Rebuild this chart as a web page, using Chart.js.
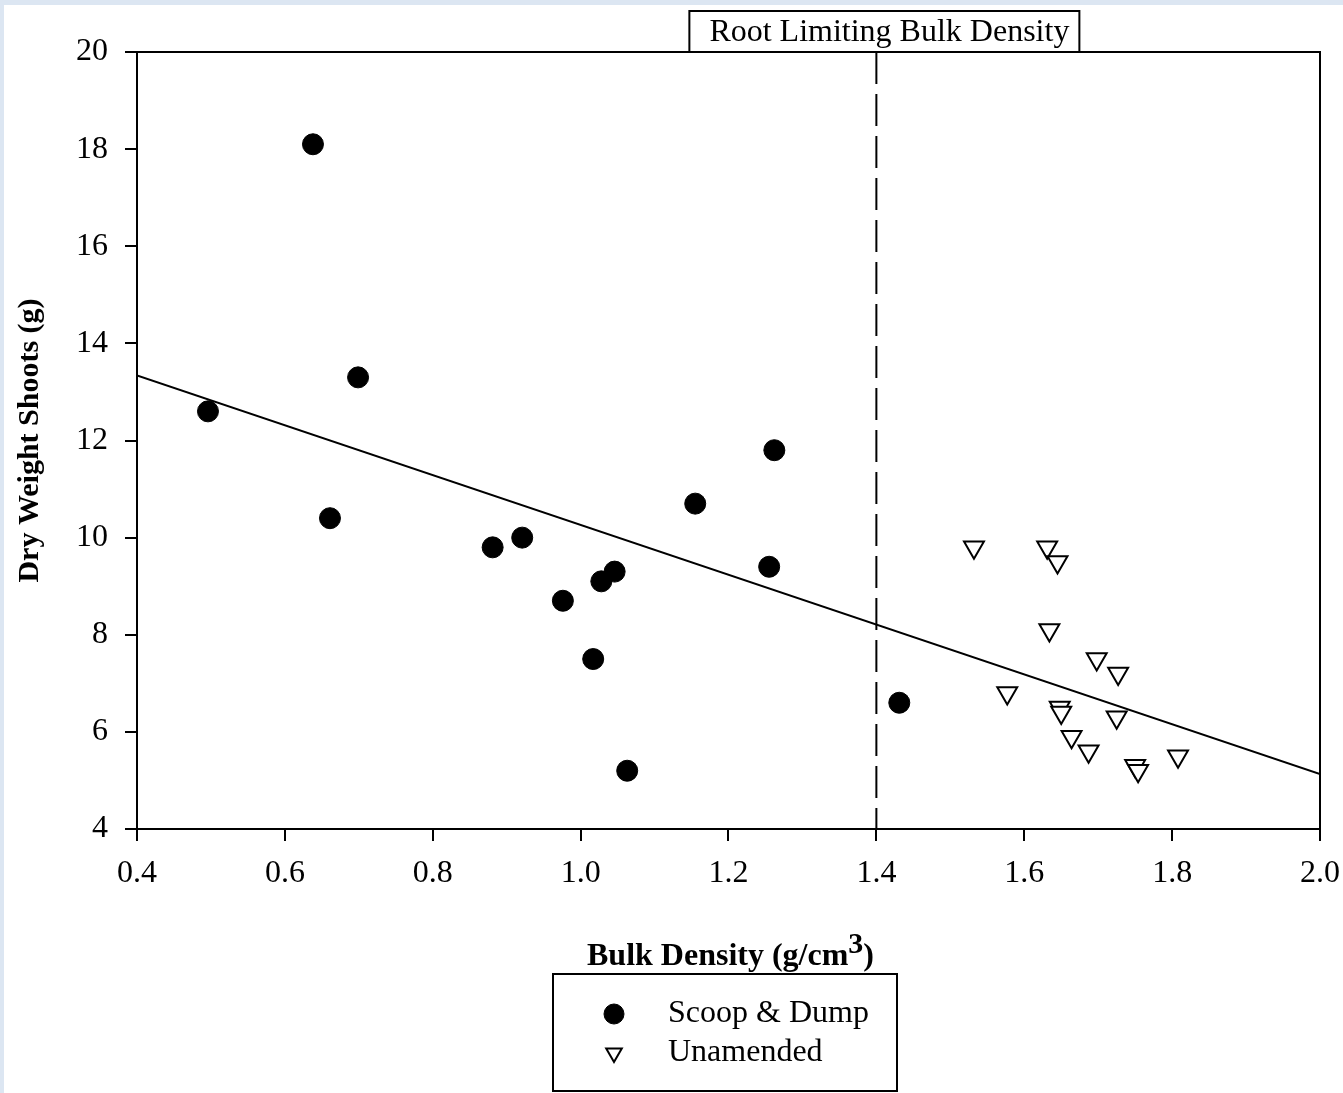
<!DOCTYPE html>
<html>
<head>
<meta charset="utf-8">
<script src="https://cdn.jsdelivr.net/npm/chart.js@4.4.1/dist/chart.umd.min.js"></script>
<style>
  html, body { margin: 0; padding: 0; background: #dce6f2; overflow: hidden; }
  #chart { display: block; }
</style>
</head>
<body>
<canvas id="chart" width="1343" height="1093"></canvas>
<script>
"use strict";
// values
var scoopX = [0.496, 0.638, 0.699, 0.661, 0.881, 0.921, 0.976, 1.028, 1.046, 1.017, 1.063, 1.155, 1.262, 1.255, 1.431];
var scoopY = [12.6, 18.1, 13.3, 10.4, 9.8, 10.0, 8.7, 9.1, 9.3, 7.5, 5.2, 10.7, 11.8, 9.4, 6.6];

var unamX = [1.532, 1.631, 1.645, 1.634, 1.698, 1.727, 1.577, 1.648, 1.650, 1.725, 1.664, 1.687, 1.808, 1.750, 1.754];
var unamY = [9.8, 9.8, 9.5, 8.1, 7.5, 7.2, 6.8, 6.5, 6.4, 6.3, 5.9, 5.6, 5.5, 5.3, 5.2];

var fitX = [0.4, 2.0];
var fitY = [13.34, 5.13];

var limitX = 1.4;
var limitLabel = "Root Limiting Bulk Density";

var xMin = 0.4, xMax = 2.0, xStep = 0.2;
var yMin = 4, yMax = 20, yStep = 2;

var seriesNames = ["Scoop & Dump", "Unamended"];
var xTitleParts = ["Bulk Density (g/cm", "3", ")"];
var yTitle = "Dry Weight Shoots (g)";

var serif = "'Liberation Serif', 'Times New Roman', serif";

function toPoints(xs, ys) {
    var pts = [];
    for (var i = 0; i < xs.length; i++) pts.push({x: xs[i], y: ys[i]});
    return pts;
}

// page background + frame + labels
var decor = {
    id: "decor",
    beforeDraw: function(chart) {
        var ctx = chart.ctx;
        ctx.save();
        ctx.fillStyle = "#dce6f2";
        ctx.fillRect(0, 0, chart.width, chart.height);
        ctx.fillStyle = "#ffffff";
        ctx.fillRect(4, 5, chart.width - 4, chart.height - 5);
        ctx.restore();
    },
    afterDraw: function(chart) {
        var ctx = chart.ctx;
        var a = chart.chartArea;
        var xs = chart.scales.x;
        ctx.save();
        ctx.strokeStyle = "#000";
        ctx.lineWidth = 2;
        ctx.strokeRect(a.left, a.top, a.right - a.left, a.bottom - a.top);

        // label box above the limit line
        var lx = xs.getPixelForValue(limitX);
        ctx.fillStyle = "#fff";
        ctx.fillRect(lx - 187, 11, 390, a.top - 11);
        ctx.strokeRect(lx - 187, 11, 390, a.top - 11);
        ctx.fillStyle = "#000";
        ctx.font = "32px " + serif;
        ctx.textBaseline = "middle";
        ctx.textAlign = "left";
        ctx.fillText(limitLabel, lx - 167, 33);

        // x axis title with raised superscript
        var bold = "bold 32px " + serif;
        var supf = "bold 30px " + serif;
        ctx.textBaseline = "alphabetic";
        ctx.font = bold;
        var w0 = ctx.measureText(xTitleParts[0]).width;
        var w2 = ctx.measureText(xTitleParts[2]).width;
        ctx.font = supf;
        var w1 = ctx.measureText(xTitleParts[1]).width;
        var tx = (a.left + a.right) / 2 - (w0 + w1 + w2) / 2 + 2;
        var base = 965;
        ctx.font = bold;
        ctx.fillText(xTitleParts[0], tx, base);
        ctx.font = supf;
        ctx.fillText(xTitleParts[1], tx + w0, base - 12);
        ctx.font = bold;
        ctx.fillText(xTitleParts[2], tx + w0 + w1, base);

        // legend
        ctx.fillStyle = "#fff";
        ctx.fillRect(553, 974, 344, 117);
        ctx.strokeRect(553, 974, 344, 117);
        var ds = chart.data.datasets;
        var rows = [1014, 1053];
        for (var i = 0; i < 2; i++) {
            ctx.fillStyle = ds[i].backgroundColor;
            ctx.strokeStyle = ds[i].borderColor;
            ctx.lineWidth = ds[i].borderWidth;
            Chart.helpers.drawPoint(ctx, {
                pointStyle: ds[i].pointStyle,
                rotation: ds[i].rotation || 0,
                radius: i === 0 ? 10 : 9,
                borderWidth: ds[i].borderWidth
            }, 614, rows[i]);
            ctx.fillStyle = "#000";
            ctx.font = "32px " + serif;
            ctx.textBaseline = "middle";
            ctx.fillText(ds[i].label, 668, rows[i]);
        }
        ctx.restore();
    }
};

var ctx = document.getElementById("chart").getContext("2d");
var chart = new Chart(ctx, {
    type: "scatter",
    data: {
        datasets: [
            {
                label: seriesNames[0],
                data: toPoints(scoopX, scoopY),
                pointStyle: "circle",
                pointRadius: 10.5,
                backgroundColor: "#000",
                borderColor: "#000",
                borderWidth: 1
            },
            {
                label: seriesNames[1],
                data: toPoints(unamX, unamY),
                pointStyle: "triangle",
                rotation: 180,
                pointRadius: 11.5,
                backgroundColor: "#fff",
                borderColor: "#000",
                borderWidth: 2
            },
            {
                label: "fit",
                data: toPoints(fitX, fitY),
                showLine: true,
                pointRadius: 0,
                borderColor: "#000",
                borderWidth: 2
            },
            {
                label: "limit",
                data: [{x: limitX, y: yMax}, {x: limitX, y: yMin}],
                showLine: true,
                pointRadius: 0,
                borderColor: "#000",
                borderWidth: 2,
                borderDash: [32, 10]
            }
        ]
    },
    options: {
        responsive: false,
        devicePixelRatio: 1,
        animation: false,
        layout: { padding: { top: 52, right: 23, left: 0, bottom: 0 } },
        plugins: {
            legend: { display: false },
            tooltip: { enabled: false }
        },
        scales: {
            x: {
                type: "linear",
                min: xMin,
                max: xMax,
                afterFit: function(scale) {
                    scale.height = 264;
                    scale.paddingLeft = 0;
                    scale.paddingRight = 0;
                },
                ticks: {
                    stepSize: xStep,
                    color: "#000",
                    padding: 13,
                    maxRotation: 0,
                    font: { family: serif, size: 32 },
                    callback: function(v) { return Number(v).toFixed(1); }
                },
                grid: { drawOnChartArea: false, drawTicks: true, tickLength: 12, color: "#000", lineWidth: 2 },
                border: { display: true, color: "#000", width: 2 }
            },
            y: {
                type: "linear",
                min: yMin,
                max: yMax,
                afterFit: function(scale) { scale.width = 137; },
                ticks: {
                    stepSize: yStep,
                    color: "#000",
                    padding: 17,
                    font: { family: serif, size: 32 }
                },
                grid: { drawOnChartArea: false, drawTicks: true, tickLength: 12, color: "#000", lineWidth: 2 },
                border: { display: true, color: "#000", width: 2 },
                title: {
                    display: true,
                    text: yTitle,
                    color: "#000",
                    font: { family: serif, size: 30, weight: "bold" },
                    padding: { top: 12, bottom: 0 }
                }
            }
        }
    },
    plugins: [decor]
});
</script>
</body>
</html>
